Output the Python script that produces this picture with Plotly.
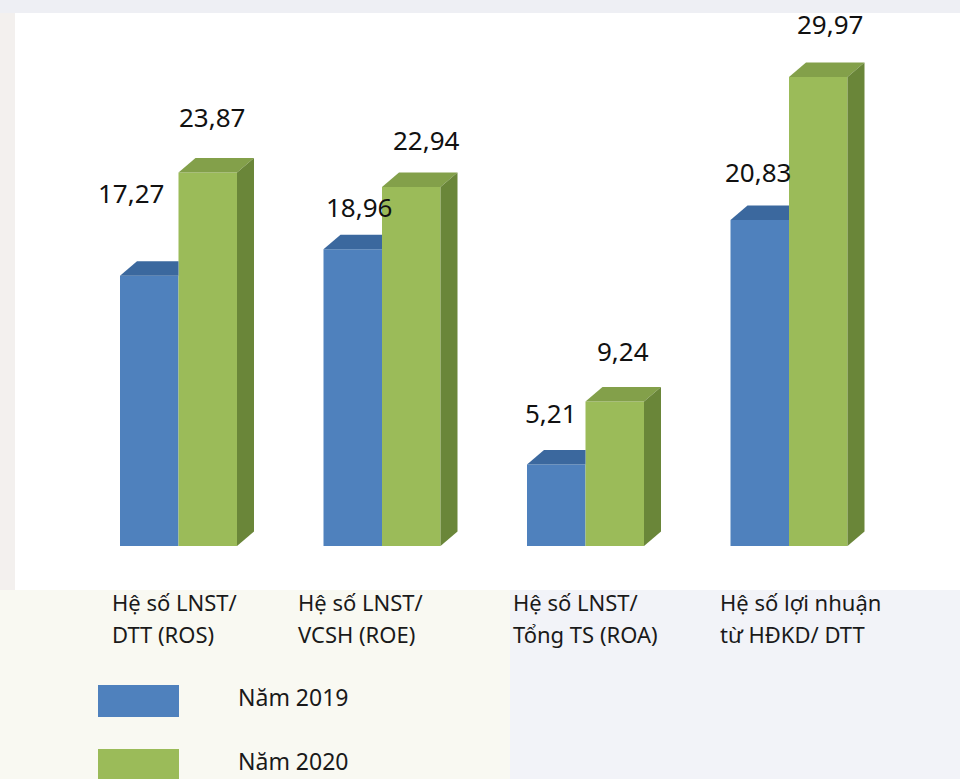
import plotly.graph_objects as go

# ---------------- data ----------------
categories = ["Hệ số LNST/<br>DTT (ROS)", "Hệ số LNST/<br>VCSH (ROE)",
              "Hệ số LNST/<br>Tổng TS (ROA)", "Hệ số lợi nhuận<br>từ HĐKD/ DTT"]
series_names = ["Năm 2019", "Năm 2020"]
values_2019 = [17.27, 18.96, 5.21, 20.83]
values_2020 = [23.87, 22.94, 9.24, 29.97]

# ---------------- style / layout constants ----------------
FIG_W, FIG_H = 960, 779
M_T, M_B = 13, 233
PLOT_H = FIG_H - M_T - M_B
PX_PER_Y = 15.65
PX_PER_X = 203.5
X0_PX = 178.5
Y_MAX = PLOT_H / PX_PER_Y
X_RANGE = [-X0_PX / PX_PER_X, (FIG_W - X0_PX) / PX_PER_X]

W = 58.5 / PX_PER_X          # bar width (data units)
DX = 17 / PX_PER_X           # 3D depth offsets
DY = 14.5 / PX_PER_Y

BLUE_FRONT, BLUE_TOP = "#4F81BD", "#3B689E"
GREEN_FRONT, GREEN_TOP, GREEN_SIDE = "#9BBB59", "#83A04A", "#6A8639"

# label nudges (pixels)
lab_dx_2019 = [-18, 6, -5, -2]
lab_dy_2019 = [83, 42, 51, 48]
lab_dx_2020 = [4, 15, 8, 12]
lab_dy_2020 = [55, 47, 50, 53]
cat_dx = [-69, -86, -75, -71]

VAL_FONT = dict(family="Noto Sans, Open Sans, sans-serif", size=26, color="#111111")
CAT_FONT = dict(family="Noto Sans, Open Sans, sans-serif", size=22, color="#1a1a1a")
LEG_FONT = dict(family="Noto Sans, Open Sans, sans-serif", size=23, color="#1a1a1a")


def px2x(px):
    return px / FIG_W


def py2y(py):
    return (FIG_H - M_B - py) / PLOT_H


xs = list(range(len(categories)))
fig = go.Figure()

# front faces (real bars)
fig.add_trace(go.Bar(x=xs, y=values_2019, width=[W] * len(xs), offset=-W,
                     marker=dict(color=BLUE_FRONT, line=dict(width=0)),
                     name=series_names[0], hoverinfo="skip", showlegend=False))
fig.add_trace(go.Bar(x=xs, y=values_2020, width=[W] * len(xs), offset=0,
                     marker=dict(color=GREEN_FRONT, line=dict(width=0)),
                     name=series_names[1], hoverinfo="skip", showlegend=False))

# 3D faces
for i, (v1, v2) in enumerate(zip(values_2019, values_2020)):
    c = xs[i]
    # blue top (visible part only; the rest is hidden behind the green bar)
    fig.add_trace(go.Scatter(
        x=[c - W, c, c, c - W + DX, c - W], y=[v1, v1, v1 + DY, v1 + DY, v1],
        fill="toself", fillcolor=BLUE_TOP, mode="lines", line=dict(width=0),
        hoverinfo="skip", showlegend=False))
    # green top
    fig.add_trace(go.Scatter(
        x=[c, c + W, c + W + DX, c + DX, c], y=[v2, v2, v2 + DY, v2 + DY, v2],
        fill="toself", fillcolor=GREEN_TOP, mode="lines", line=dict(width=0),
        hoverinfo="skip", showlegend=False))
    # green side
    fig.add_trace(go.Scatter(
        x=[c + W, c + W + DX, c + W + DX, c + W, c + W], y=[0, DY, v2 + DY, v2, 0],
        fill="toself", fillcolor=GREEN_SIDE, mode="lines", line=dict(width=0),
        hoverinfo="skip", showlegend=False))

annotations = []
for i in range(len(xs)):
    annotations.append(dict(x=xs[i] - W / 2, y=values_2019[i], xref="x", yref="y",
                            text=f"{values_2019[i]:.2f}".replace(".", ","), showarrow=False,
                            xanchor="center", yanchor="middle",
                            xshift=lab_dx_2019[i], yshift=lab_dy_2019[i], font=VAL_FONT))
    annotations.append(dict(x=xs[i] + W / 2, y=values_2020[i], xref="x", yref="y",
                            text=f"{values_2020[i]:.2f}".replace(".", ","), showarrow=False,
                            xanchor="center", yanchor="middle",
                            xshift=lab_dx_2020[i], yshift=lab_dy_2020[i], font=VAL_FONT))
    lines = categories[i].split("<br>")
    for j, ln in enumerate(lines):
        annotations.append(dict(x=xs[i], y=py2y(602 + 32 * j), xref="x", yref="paper",
                                text=ln, showarrow=False, xanchor="left", yanchor="middle",
                                xshift=cat_dx[i], font=CAT_FONT))

# custom legend
leg_colors = [BLUE_FRONT, GREEN_FRONT]
leg_rows = [701, 765]
shapes = [
    # background pieces
    dict(type="rect", xref="paper", yref="paper", x0=px2x(0), x1=px2x(960),
         y0=py2y(0), y1=py2y(13), fillcolor="#eeeff4", line=dict(width=0), layer="below"),
    dict(type="rect", xref="paper", yref="paper", x0=px2x(0), x1=px2x(15),
         y0=py2y(13), y1=py2y(590), fillcolor="#f3f0ee", line=dict(width=0), layer="below"),
    dict(type="rect", xref="paper", yref="paper", x0=px2x(0), x1=px2x(510),
         y0=py2y(590), y1=py2y(779), fillcolor="#f9f9f2", line=dict(width=0), layer="below"),
    dict(type="rect", xref="paper", yref="paper", x0=px2x(510), x1=px2x(960),
         y0=py2y(590), y1=py2y(779), fillcolor="#f2f3f8", line=dict(width=0), layer="below"),
    # white chart panel
    dict(type="rect", xref="paper", yref="paper", x0=px2x(15), x1=px2x(960),
         y0=py2y(590), y1=py2y(13), fillcolor="#ffffff", line=dict(width=0), layer="below"),
]
for k, name in enumerate(series_names):
    cy = leg_rows[k]
    shapes.append(dict(type="rect", xref="paper", yref="paper",
                       x0=px2x(98), x1=px2x(179), y0=py2y(cy + 16), y1=py2y(cy - 16),
                       fillcolor=leg_colors[k], line=dict(width=0)))
    annotations.append(dict(x=px2x(236), y=py2y(cy - 4), xref="paper", yref="paper",
                            text=name, showarrow=False, xanchor="left", yanchor="middle",
                            font=LEG_FONT))

fig.update_layout(
    width=FIG_W, height=FIG_H,
    margin=dict(l=0, r=0, t=M_T, b=M_B, pad=0),
    paper_bgcolor="#f1f1f4", plot_bgcolor="rgba(0,0,0,0)",
    barmode="overlay",
    xaxis=dict(range=X_RANGE, visible=False, fixedrange=True),
    yaxis=dict(range=[0, Y_MAX], visible=False, fixedrange=True),
    shapes=shapes, annotations=annotations, showlegend=False,
)

fig.write_html(
    "out.html",
    config={"displayModeBar": False, "staticPlot": True},
    post_script="document.body.style.margin='0px';document.body.style.padding='0px';"
                "document.body.style.overflow='hidden';",
)
